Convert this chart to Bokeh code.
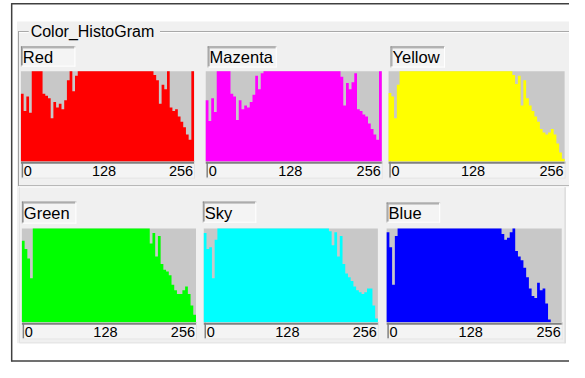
from bokeh.plotting import figure
from bokeh.models import Range1d
from bokeh.embed import file_html
from bokeh.resources import INLINE
from bokeh.core.properties import value

# ---------------- data ----------------
TITLE = "Color_HistoGram"
channel_names = ["Red", "Mazenta", "Yellow", "Green", "Sky", "Blue"]
channel_colors = ["#ff0000", "#ff00ff", "#ffff00", "#00ff00", "#00ffff", "#0000ff"]
tick_labels = ["0", "128", "256"]
BIN = 4  # intensity levels per bar (64 bars over 0..256)

# relative frequency per bar, 100 = clipped at the top of the panel
red_counts = [75, 56, 72, 54, 100, 100, 100, 100,
              75, 73, 70, 48, 66, 60, 64, 58,
              68, 90, 100, 78, 95, 100, 100, 100,
              100, 100, 100, 100, 100, 100, 100, 100,
              100, 100, 100, 100, 100, 100, 100, 100,
              100, 100, 100, 100, 100, 100, 100, 100,
              100, 96, 90, 64, 85, 80, 100, 60,
              56, 58, 50, 44, 38, 30, 24, 100]
magenta_counts = [68, 45, 70, 55, 100, 100, 100, 100,
                  100, 75, 72, 46, 68, 58, 62, 60,
                  66, 74, 95, 80, 98, 100, 100, 100,
                  100, 100, 100, 100, 100, 100, 100, 100,
                  100, 100, 100, 100, 100, 100, 100, 100,
                  100, 100, 100, 100, 100, 100, 100, 100,
                  100, 94, 62, 87, 80, 88, 98, 58,
                  56, 52, 50, 42, 36, 30, 24, 100]
yellow_counts = [76, 72, 48, 85, 100, 100, 100, 100,
                 100, 100, 100, 100, 100, 100, 100, 100,
                 100, 100, 100, 100, 100, 100, 100, 100,
                 100, 100, 100, 100, 100, 100, 100, 100,
                 100, 100, 100, 100, 100, 100, 100, 100,
                 100, 100, 100, 100, 100, 96, 86, 95,
                 62, 90, 70, 62, 56, 50, 44, 36,
                 32, 30, 32, 36, 30, 20, 10, 3]
green_counts = [87, 78, 68, 47, 100, 100, 100, 100,
                100, 100, 100, 100, 100, 100, 100, 100,
                100, 100, 100, 100, 100, 100, 100, 100,
                100, 100, 100, 100, 100, 100, 100, 100,
                100, 100, 100, 100, 100, 100, 100, 100,
                100, 100, 100, 100, 100, 100, 100, 84,
                95, 70, 92, 62, 56, 54, 50, 40,
                34, 30, 30, 34, 38, 30, 18, 8]
sky_counts = [95, 78, 80, 47, 88, 100, 100, 100,
              100, 100, 100, 100, 100, 100, 100, 100,
              100, 100, 100, 100, 100, 100, 100, 100,
              100, 100, 100, 100, 100, 100, 100, 100,
              100, 100, 100, 100, 100, 100, 100, 100,
              100, 100, 100, 100, 100, 100, 97, 82,
              96, 70, 92, 62, 52, 48, 44, 38,
              34, 32, 30, 32, 36, 36, 18, 4]
blue_counts = [96, 80, 40, 92, 100, 100, 100, 100,
               100, 100, 100, 100, 100, 100, 100, 100,
               100, 100, 100, 100, 100, 100, 100, 100,
               100, 100, 100, 100, 100, 100, 100, 100,
               100, 100, 100, 100, 100, 100, 100, 100,
               100, 100, 94, 88, 90, 96, 100, 76,
               70, 66, 58, 48, 36, 28, 26, 42,
               34, 36, 20, 3, 0, 0, 0, 0]
all_counts = [red_counts, magenta_counts, yellow_counts,
              green_counts, sky_counts, blue_counts]

# ---------------- layout (reference-window units, 585 x 378) ----------------
W, H = 569, 362          # figure size in pixels
RW, RH = 585, 378        # extent of the drawing in window units
# histogram box: left, right, top, bottom ; label box: left, top, right, bottom
hist_boxes = [(21, 199, 74, 168), (211, 392, 74, 168), (399, 580, 74, 168),
              (22, 201, 238, 336), (209, 388, 238, 336), (397, 577, 238, 336)]
label_boxes = [(21, 48, 77, 69), (213, 48, 284, 70), (401, 48, 457, 70),
               (22, 210, 78, 233), (208, 210, 263, 232), (397, 211, 452, 232)]

UI_BG = "#f0f0f0"
HIST_BG = "#c8c8c8"
DARK = "#808080"
FONT = value("Liberation Sans")

p = figure(width=W, height=H, x_range=Range1d(0, RW), y_range=Range1d(RH, 0),
           output_backend="svg", toolbar_location=None, min_border=0,
           x_axis_location=None, y_axis_location=None, outline_line_color=None)
p.grid.visible = False
p.background_fill_color = "white"
p.border_fill_color = "white"

def seg(x0, y0, x1, y1, color, width=1):
    p.segment(x0=[x0], y0=[y0], x1=[x1], y1=[y1], line_color=color, line_width=width)

def box(l, t, r, b, color):
    p.quad(left=[l], right=[r], top=[t], bottom=[b], fill_color=color, line_color=None)

def sunken(l, t, r, b, fill):
    box(l, t, r, b, fill)
    seg(l, t + 0.5, r, t + 0.5, DARK)
    seg(l + 0.5, t, l + 0.5, b, DARK)
    seg(l + 1, t + 1.5, r - 1, t + 1.5, "#a8a8a8")
    seg(l + 1.5, t + 1, l + 1.5, b - 1, "#a8a8a8")
    seg(l, b - 0.5, r, b - 0.5, "#ffffff")
    seg(r - 0.5, t, r - 0.5, b, "#ffffff")

# outer frame
seg(11.5, 3, 11.5, 377, "#404040", 1.5)
seg(11, 3.5, 590, 3.5, "#404040", 1.5)
seg(11, 376.5, 590, 376.5, "#404040", 1.5)
# window area
box(17, 22, 590, 195, UI_BG)
box(17, 195, 581, 358, UI_BG)
# group box
seg(18, 32.5, 29, 32.5, "#a0a0a0")
seg(164, 32.5, 590, 32.5, "#a0a0a0")
seg(18, 33.5, 29, 33.5, "#ffffff")
seg(164, 33.5, 590, 33.5, "#ffffff")
seg(18.5, 32.5, 18.5, 194, "#a0a0a0")
seg(18, 193.5, 590, 193.5, "#a0a0a0")
seg(18, 194.5, 590, 194.5, "#ffffff")
# lower panel border
seg(19.5, 195, 19.5, 357.5, "#e2e2e2")
seg(580.5, 195, 580.5, 358, "#d0d0d0")
seg(19.5, 357.5, 580.5, 357.5, "#e2e2e2")

p.text(x=[31], y=[32.5], text=[TITLE], text_font=FONT, text_font_size="16px",
       text_color="#000000", text_baseline="middle", text_align="left")

extra_x, extra_y = {}, {}
for k, (hx0, hx1, hyt, hyb) in enumerate(hist_boxes):
    extra_x[f"x{k}"] = Range1d((0 - hx0) / (hx1 - hx0) * 256, (RW - hx0) / (hx1 - hx0) * 256)
    extra_y[f"y{k}"] = Range1d((hyb - RH) / (hyb - hyt) * 100, (hyb - 0) / (hyb - hyt) * 100)
p.extra_x_ranges = extra_x
p.extra_y_ranges = extra_y

for k, (name, color, counts) in enumerate(zip(channel_names, channel_colors, all_counts)):
    hx0, hx1, hyt, hyb = hist_boxes[k]
    lx0, ly0, lx1, ly1 = label_boxes[k]
    # label box
    sunken(lx0, ly0, lx1, ly1, "#f4f4f4")
    p.text(x=[lx0 + 2], y=[(ly0 + ly1) / 2 + 0.5], text=[name], text_font=FONT,
           text_font_size="16.5px", text_color="#000000",
           text_baseline="middle", text_align="left")
    # histogram background
    box(hx0, hyt, hx1, hyb, HIST_BG)
    # histogram bars as a step area
    xs, ys = [0], [0]
    for i, v in enumerate(counts):
        xs += [i * BIN, (i + 1) * BIN]
        ys += [v, v]
    xs.append(len(counts) * BIN)
    ys.append(0)
    p.patch(xs, ys, fill_color=color, line_color=None,
            x_range_name=f"x{k}", y_range_name=f"y{k}")
    # axis strip
    at, ab = hyb + 0.5, hyb + 18
    box(hx0, at, hx1 + 1, ab, "#f4f4f4")
    seg(hx0, at + 1, hx1 + 1, at + 1, DARK, 2)
    seg(hx0 + 1.5, at, hx0 + 1.5, ab - 1, DARK, 1.5)
    seg(hx0, ab - 0.5, hx1 + 1, ab - 0.5, "#e4e4e4")
    seg(hx1 + 0.5, at, hx1 + 0.5, ab, "#e4e4e4")
    wdt = hx1 - hx0
    p.text(x=[hx0 + 3, hx0 + 0.48 * wdt, hx1 - 1], y=[(at + ab) / 2 + 1] * 3, text=tick_labels,
           text_align=["left", "center", "right"],
           text_font=FONT, text_font_size="14.5px",
           text_color="#000000", text_baseline="middle")

open("out.html", "w").write(file_html(p, INLINE))
